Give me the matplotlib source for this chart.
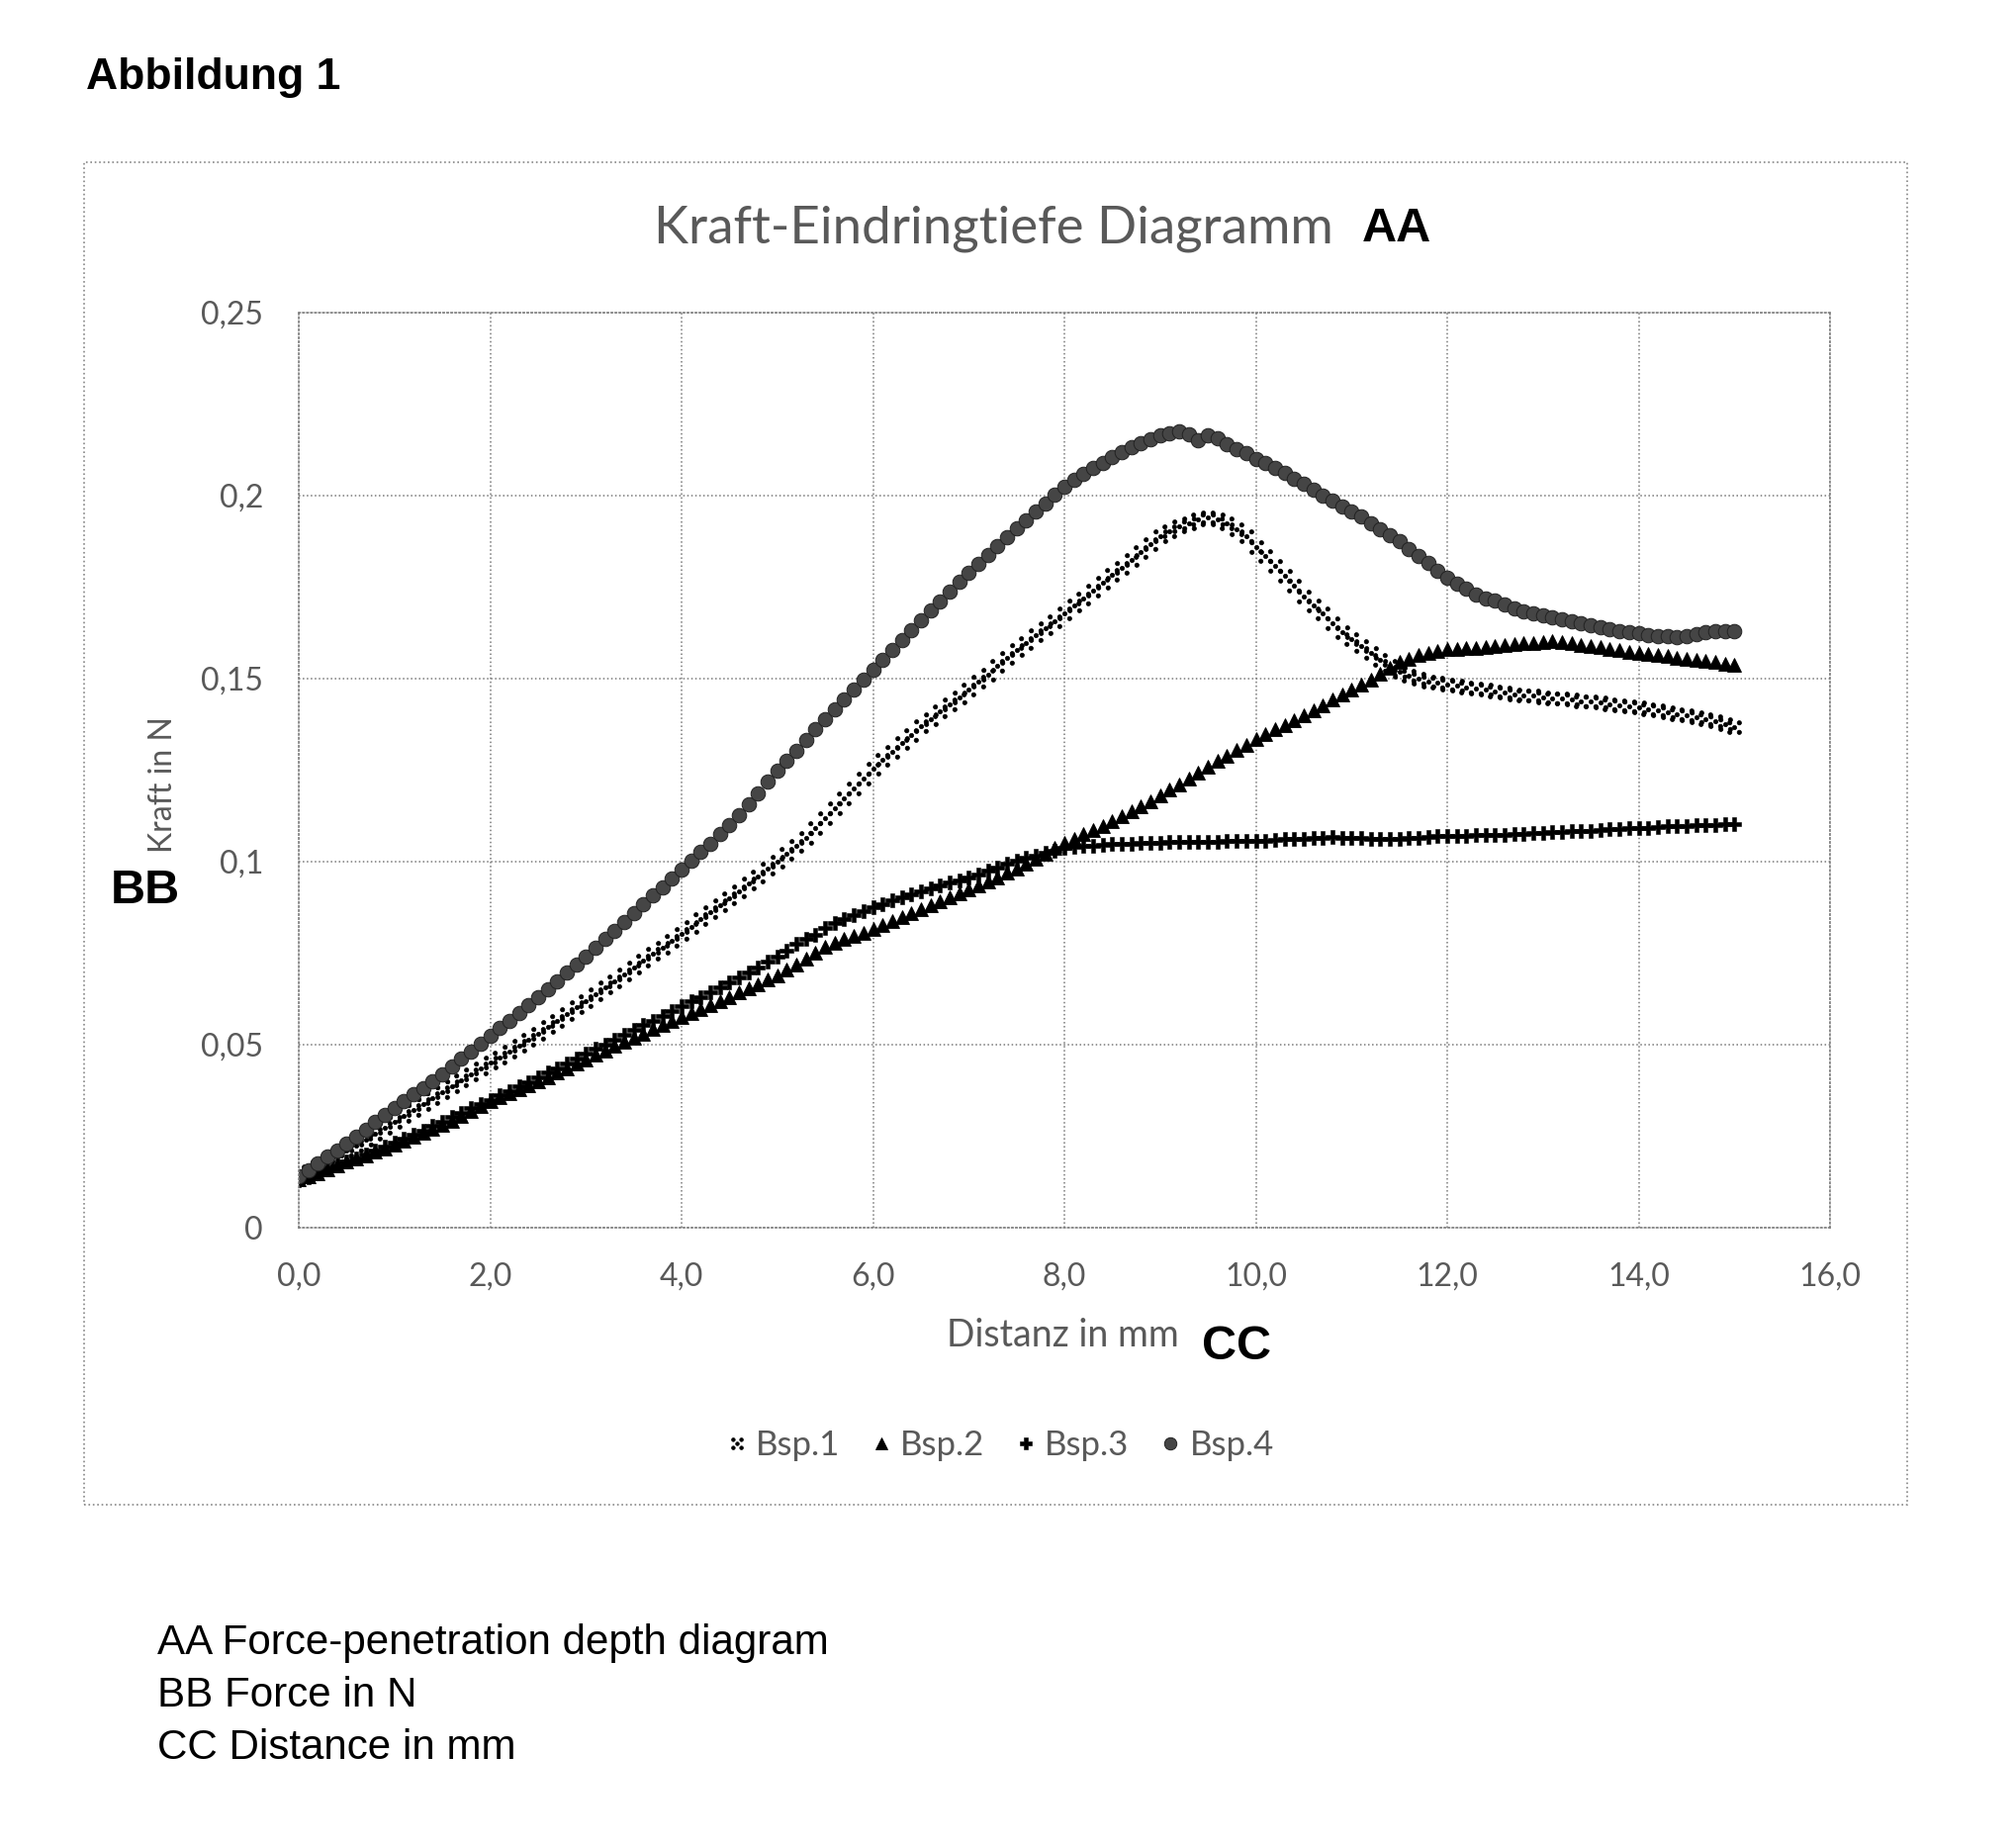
import numpy as np
import matplotlib
matplotlib.use("Agg")
import matplotlib.pyplot as plt
from matplotlib.path import Path
from matplotlib.patches import Rectangle

# Distanz in mm (Messpunkte alle 0,1 mm)
distanz = np.round(np.arange(0, 151) * 0.1, 1)

bsp1 = [0.0140, 0.0153, 0.0167, 0.0181, 0.0195, 0.0210, 0.0225, 0.0241, 0.0257, 0.0273,
        0.0289, 0.0305, 0.0321, 0.0337, 0.0353, 0.0370, 0.0386, 0.0402, 0.0418, 0.0434,
        0.0451, 0.0466, 0.0482, 0.0498, 0.0514, 0.0530, 0.0548, 0.0566, 0.0584, 0.0602,
        0.0620, 0.0638, 0.0656, 0.0674, 0.0692, 0.0710, 0.0729, 0.0748, 0.0766, 0.0785,
        0.0803, 0.0822, 0.0842, 0.0861, 0.0881, 0.0900, 0.0920, 0.0940, 0.0960, 0.0980,
        0.1000, 0.1021, 0.1043, 0.1066, 0.1091, 0.1118, 0.1145, 0.1172, 0.1199, 0.1227,
        0.1254, 0.1278, 0.1301, 0.1324, 0.1347, 0.1370, 0.1390, 0.1410, 0.1430, 0.1450,
        0.1470, 0.1491, 0.1512, 0.1534, 0.1556, 0.1578, 0.1598, 0.1618, 0.1638, 0.1658,
        0.1678, 0.1699, 0.1720, 0.1741, 0.1762, 0.1783, 0.1804, 0.1825, 0.1846, 0.1868,
        0.1888, 0.1902, 0.1915, 0.1924, 0.1934, 0.1940, 0.1936, 0.1925, 0.1908, 0.1888,
        0.1860, 0.1835, 0.1808, 0.1782, 0.1755, 0.1725, 0.1700, 0.1678, 0.1650, 0.1628,
        0.1608, 0.1589, 0.1570, 0.1550, 0.1534, 0.1520, 0.1508, 0.1499, 0.1493, 0.1488,
        0.1484, 0.1480, 0.1476, 0.1472, 0.1469, 0.1465, 0.1462, 0.1458, 0.1455, 0.1453,
        0.1450, 0.1447, 0.1445, 0.1442, 0.1439, 0.1437, 0.1434, 0.1431, 0.1428, 0.1424,
        0.1421, 0.1417, 0.1413, 0.1409, 0.1404, 0.1400, 0.1395, 0.1389, 0.1383, 0.1376,
        0.1367]

bsp2 = [0.0132, 0.0141, 0.0150, 0.0160, 0.0170, 0.0180, 0.0189, 0.0198, 0.0208, 0.0217,
        0.0227, 0.0237, 0.0248, 0.0259, 0.0270, 0.0281, 0.0293, 0.0306, 0.0319, 0.0332,
        0.0345, 0.0356, 0.0367, 0.0378, 0.0389, 0.0400, 0.0412, 0.0424, 0.0436, 0.0448,
        0.0460, 0.0472, 0.0484, 0.0496, 0.0508, 0.0520, 0.0531, 0.0542, 0.0553, 0.0564,
        0.0575, 0.0586, 0.0597, 0.0608, 0.0619, 0.0630, 0.0642, 0.0654, 0.0666, 0.0678,
        0.0690, 0.0705, 0.0720, 0.0736, 0.0752, 0.0768, 0.0778, 0.0788, 0.0797, 0.0806,
        0.0816, 0.0827, 0.0838, 0.0849, 0.0860, 0.0870, 0.0881, 0.0892, 0.0903, 0.0914,
        0.0925, 0.0936, 0.0947, 0.0958, 0.0969, 0.0980, 0.0994, 0.1008, 0.1022, 0.1037,
        0.1051, 0.1063, 0.1075, 0.1086, 0.1098, 0.1110, 0.1124, 0.1138, 0.1152, 0.1166,
        0.1180, 0.1196, 0.1212, 0.1227, 0.1243, 0.1260, 0.1275, 0.1290, 0.1305, 0.1320,
        0.1335, 0.1348, 0.1361, 0.1374, 0.1387, 0.1400, 0.1414, 0.1428, 0.1442, 0.1456,
        0.1470, 0.1484, 0.1497, 0.1513, 0.1530, 0.1545, 0.1555, 0.1564, 0.1571, 0.1576,
        0.1580, 0.1582, 0.1584, 0.1585, 0.1587, 0.1588, 0.1591, 0.1594, 0.1596, 0.1598,
        0.1600, 0.1602, 0.1599, 0.1596, 0.1593, 0.1590, 0.1586, 0.1582, 0.1578, 0.1574,
        0.1570, 0.1567, 0.1564, 0.1561, 0.1558, 0.1555, 0.1551, 0.1548, 0.1545, 0.1541,
        0.1538]

bsp3 = [0.0130, 0.0139, 0.0149, 0.0159, 0.0169, 0.0180, 0.0190, 0.0200, 0.0211, 0.0221,
        0.0232, 0.0243, 0.0254, 0.0266, 0.0278, 0.0290, 0.0302, 0.0314, 0.0326, 0.0338,
        0.0350, 0.0362, 0.0374, 0.0386, 0.0398, 0.0410, 0.0423, 0.0436, 0.0449, 0.0462,
        0.0475, 0.0488, 0.0501, 0.0514, 0.0527, 0.0540, 0.0553, 0.0566, 0.0579, 0.0592,
        0.0605, 0.0618, 0.0631, 0.0644, 0.0657, 0.0670, 0.0684, 0.0698, 0.0712, 0.0726,
        0.0740, 0.0757, 0.0775, 0.0790, 0.0801, 0.0820, 0.0832, 0.0843, 0.0854, 0.0865,
        0.0876, 0.0885, 0.0894, 0.0903, 0.0911, 0.0920, 0.0927, 0.0935, 0.0942, 0.0950,
        0.0957, 0.0966, 0.0976, 0.0985, 0.0994, 0.1003, 0.1010, 0.1017, 0.1024, 0.1031,
        0.1038, 0.1040, 0.1042, 0.1044, 0.1046, 0.1048, 0.1049, 0.1050, 0.1051, 0.1051,
        0.1052, 0.1053, 0.1053, 0.1054, 0.1054, 0.1055, 0.1055, 0.1056, 0.1056, 0.1057,
        0.1057, 0.1058, 0.1060, 0.1061, 0.1062, 0.1063, 0.1064, 0.1065, 0.1068, 0.1066,
        0.1066, 0.1064, 0.1062, 0.1061, 0.1061, 0.1062, 0.1064, 0.1066, 0.1068, 0.1069,
        0.1070, 0.1071, 0.1071, 0.1072, 0.1072, 0.1073, 0.1074, 0.1076, 0.1077, 0.1078,
        0.1079, 0.1080, 0.1082, 0.1083, 0.1084, 0.1085, 0.1087, 0.1088, 0.1089, 0.1091,
        0.1092, 0.1093, 0.1094, 0.1096, 0.1097, 0.1098, 0.1099, 0.1100, 0.1101, 0.1102,
        0.1103]

bsp4 = [0.0141, 0.0158, 0.0176, 0.0194, 0.0212, 0.0230, 0.0249, 0.0268, 0.0288, 0.0307,
        0.0327, 0.0345, 0.0364, 0.0382, 0.0401, 0.0420, 0.0440, 0.0461, 0.0481, 0.0502,
        0.0524, 0.0545, 0.0566, 0.0587, 0.0608, 0.0630, 0.0652, 0.0674, 0.0696, 0.0718,
        0.0740, 0.0764, 0.0788, 0.0812, 0.0836, 0.0860, 0.0884, 0.0907, 0.0931, 0.0955,
        0.0978, 0.1002, 0.1026, 0.1050, 0.1075, 0.1100, 0.1128, 0.1157, 0.1187, 0.1219,
        0.1248, 0.1276, 0.1304, 0.1332, 0.1362, 0.1390, 0.1417, 0.1444, 0.1471, 0.1498,
        0.1524, 0.1551, 0.1579, 0.1606, 0.1633, 0.1660, 0.1686, 0.1712, 0.1738, 0.1764,
        0.1790, 0.1814, 0.1838, 0.1862, 0.1886, 0.1910, 0.1933, 0.1956, 0.1979, 0.2002,
        0.2024, 0.2042, 0.2059, 0.2075, 0.2090, 0.2105, 0.2119, 0.2132, 0.2143, 0.2155,
        0.2165, 0.2171, 0.2175, 0.2168, 0.2152, 0.2165, 0.2158, 0.2140, 0.2128, 0.2115,
        0.2100, 0.2088, 0.2075, 0.2062, 0.2047, 0.2032, 0.2016, 0.2001, 0.1986, 0.1971,
        0.1957, 0.1942, 0.1925, 0.1909, 0.1892, 0.1875, 0.1855, 0.1834, 0.1815, 0.1795,
        0.1776, 0.1760, 0.1745, 0.1731, 0.1720, 0.1714, 0.1703, 0.1692, 0.1683, 0.1678,
        0.1673, 0.1667, 0.1661, 0.1656, 0.1651, 0.1646, 0.1641, 0.1636, 0.1631, 0.1627,
        0.1624, 0.1620, 0.1617, 0.1615, 0.1614, 0.1616, 0.1621, 0.1627, 0.1629, 0.1630,
        0.1630]

namen = ["Bsp.1", "Bsp.2", "Bsp.3", "Bsp.4"]
x_ticks = [0, 2, 4, 6, 8, 10, 12, 14, 16]
x_labels = ["0,0", "2,0", "4,0", "6,0", "8,0", "10,0", "12,0", "14,0", "16,0"]
y_ticks = [0, 0.05, 0.1, 0.15, 0.2, 0.25]
y_labels = ["0", "0,05", "0,1", "0,15", "0,2", "0,25"]

GRAU = "#595959"
CAL = "Lato"
ARIAL = "Liberation Sans"

# "x" marker made of five dots, as in the original
pkt = [(0, 0), (-0.72, 0.72), (0.72, 0.72), (-0.72, -0.72), (0.72, -0.72)]
kreuz = Path.make_compound_path(*[Path.circle(p, 0.32) for p in pkt])

W, H = 2038, 1867
fig = plt.figure(figsize=(W / 100, H / 100), dpi=100)

# outer chart frame
fig.patches.append(Rectangle((85 / W, 1 - 1521 / H), (1928 - 85) / W, (1521 - 164) / H,
                             transform=fig.transFigure, fill=False,
                             edgecolor="#888888", linestyle=":", linewidth=1.2))

ax = fig.add_axes([302 / W, 1 - 1241 / H, (1850 - 302) / W, (1241 - 316) / H])

ax.plot(distanz, bsp1, linestyle="none", marker=kreuz, markersize=10,
        markerfacecolor="black", markeredgecolor="black", markeredgewidth=0.5,
        label=namen[0])
ax.plot(distanz, bsp2, linestyle="none", marker="^", markersize=10.5,
        color="black", markeredgewidth=0.6, label=namen[1])
ax.plot(distanz, bsp3, linestyle="none", marker="P", markersize=10.5,
        color="black", markeredgewidth=0.4, label=namen[2])
ax.plot(distanz, bsp4, linestyle="none", marker="o", markersize=10.5,
        markerfacecolor="#454545", markeredgecolor="#222222", markeredgewidth=0.7,
        label=namen[3])

ax.set_xlim(0, 16)
ax.set_ylim(0, 0.25)
ax.set_xticks(x_ticks)
ax.set_xticklabels(x_labels)
ax.set_yticks(y_ticks)
ax.set_yticklabels(y_labels)
ax.tick_params(length=0, labelsize=23, labelcolor=GRAU)
ax.tick_params(axis="x", pad=25)
ax.tick_params(axis="y", pad=26)
for t in ax.get_xticklabels() + ax.get_yticklabels():
    t.set_family(CAL)
ax.grid(True, color="#7a7a7a", linestyle=":", linewidth=1.1)
for s in ax.spines.values():
    s.set_color("#7a7a7a")
    s.set_linestyle(":")
    s.set_linewidth(1.1)

# titles and axis labels
fig.text(87 / W, 1 - 78 / H, "Abbildung 1", family=ARIAL, weight="bold",
         fontsize=32, va="center", ha="left")
fig.text(1348 / W, 1 - 231 / H, "Kraft-Eindringtiefe Diagramm", family=CAL,
         fontsize=38, color=GRAU, va="center", ha="right")
fig.text(1377 / W, 1 - 231 / H, "AA", family=ARIAL, weight="bold",
         fontsize=35, va="center", ha="left")
fig.text(1074 / W, 1 - 1350 / H, "Distanz in mm", family=CAL, fontsize=27,
         color=GRAU, va="center", ha="center")
fig.text(1215 / W, 1 - 1362 / H, "CC", family=ARIAL, weight="bold",
         fontsize=35, va="center", ha="left")
fig.text(165 / W, 1 - 793 / H, "Kraft in N", family=CAL, fontsize=23,
         color=GRAU, va="center", ha="center", rotation=90)
fig.text(147 / W, 1 - 900 / H, "BB", family=ARIAL, weight="bold",
         fontsize=35, va="center", ha="center")

leg = fig.legend(loc="center", bbox_to_anchor=(1012 / W, 1 - 1461 / H), ncol=4,
                 frameon=False, prop={"family": CAL, "size": 25},
                 handlelength=0.5, handletextpad=0.3, columnspacing=0.95,
                 markerscale=0.85)
for t in leg.get_texts():
    t.set_color(GRAU)

# English key below the chart
key = ["AA Force-penetration depth diagram", "BB Force in N", "CC Distance in mm"]
for i, zeile in enumerate(key):
    fig.text(159 / W, 1 - (1661 + 53 * i) / H, zeile, family=ARIAL,
             fontsize=30.3, va="center", ha="left")

fig.savefig("out.png", dpi=100, facecolor="white")
